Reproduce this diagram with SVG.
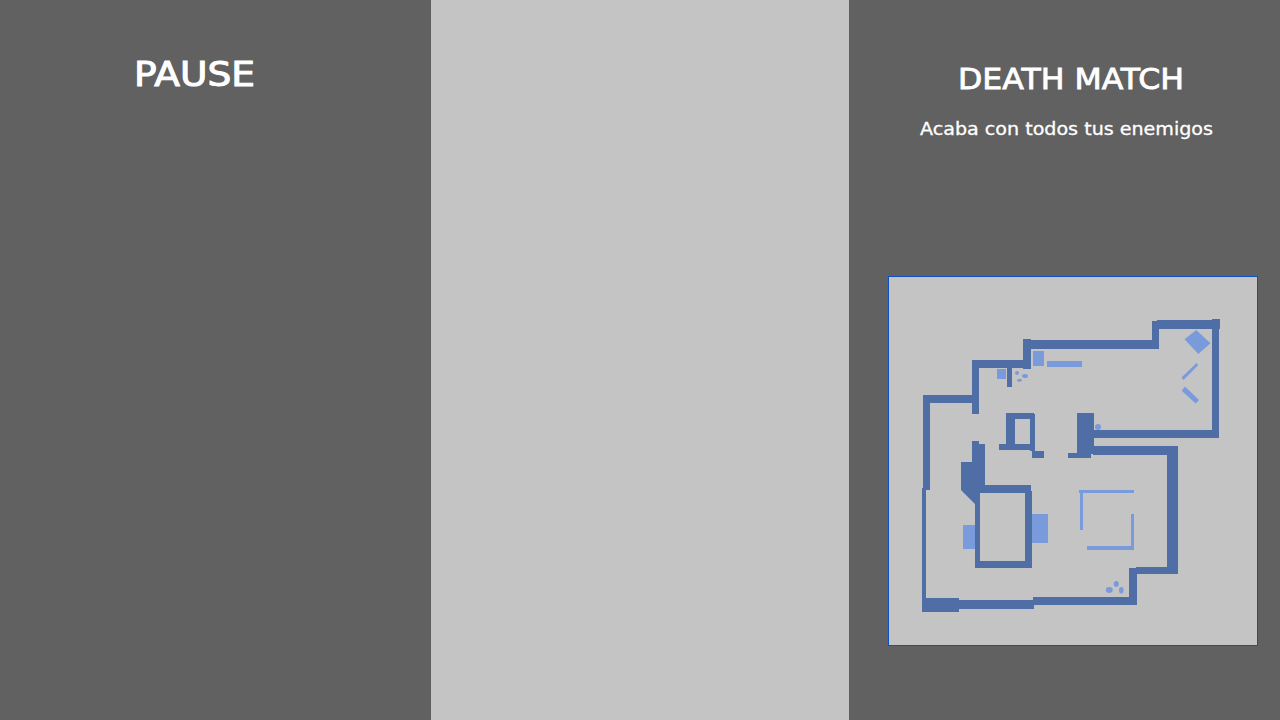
<svg xmlns="http://www.w3.org/2000/svg" width="1280" height="720" viewBox="0 0 1280 720">
<style>
.w{fill:#4e6ea5}
.l{fill:#7a9bdb}
text{fill:#fff;stroke:#fff;stroke-width:.3px;font-family:"DejaVu Sans",sans-serif}
</style>
<rect width="1280" height="720" fill="#616161"/>
<rect x="431" width="418" height="720" fill="#c4c4c4"/>
<text x="134" y="86" font-size="33" textLength="121" lengthAdjust="spacingAndGlyphs" style="stroke-width:1px">PAUSE</text>
<text x="958" y="88.500" font-size="28.500" textLength="226" lengthAdjust="spacingAndGlyphs" style="stroke-width:.8px">DEATH MATCH</text>
<text x="920" y="135" font-size="17.500" textLength="293" lengthAdjust="spacingAndGlyphs">Acaba con todos tus enemigos</text>
<g id="map">
<rect x="888.500" y="276.500" width="369" height="369" fill="#c4c4c4" stroke="#0d4fc4"/>
<g class="w">
<rect x="1031" y="340" width="128" height="9"/>
<rect x="1023" y="339" width="8" height="30"/>
<rect x="972" y="360" width="59" height="8"/>
<rect x="972" y="360" width="7" height="54"/>
<rect x="923" y="395" width="56" height="8"/>
<rect x="923" y="395" width="7" height="95"/>
<rect x="1007" y="368" width="5" height="19"/>
<rect x="1006" y="413" width="28" height="6"/>
<rect x="1006" y="413" width="9" height="31"/>
<rect x="1030" y="414" width="5" height="37"/>
<rect x="999" y="444" width="35" height="6"/>
<rect x="1032" y="451" width="12" height="7"/>
<rect x="1068" y="453" width="23" height="5"/>
<rect x="1077" y="413" width="17" height="41"/>
<rect x="1094" y="430" width="125" height="8"/>
<rect x="1212" y="319" width="7" height="119"/>
<rect x="1212" y="319" width="8" height="10"/>
<rect x="1157" y="320" width="63" height="9"/>
<rect x="1152" y="321" width="7" height="28"/>
<rect x="1093" y="446" width="85" height="9"/>
<rect x="1167" y="446" width="11" height="128"/>
<rect x="1136" y="567" width="42" height="7"/>
<rect x="1129" y="568" width="8" height="37"/>
<rect x="1033" y="597" width="104" height="8"/>
<rect x="959" y="600" width="75" height="9"/>
<rect x="922" y="598" width="37" height="14"/>
<rect x="922" y="488" width="4" height="124"/>
<polygon points="972,441 979,441 979,444 985,444 985,493 980,493 980,504 975,504 961,490 961,462 972,462"/>
<rect x="979" y="485" width="52" height="8"/>
<rect x="975" y="490" width="5" height="78"/>
<rect x="1025" y="491" width="7" height="77"/>
<rect x="975" y="561" width="57" height="7"/>
</g>
<g class="l">
<rect x="997" y="369" width="9" height="10"/>
<rect x="1033" y="351" width="11" height="15"/>
<rect x="1047" y="361" width="35" height="6"/>
<ellipse cx="1017" cy="373" rx="2" ry="2"/>
<ellipse cx="1025" cy="376" rx="3" ry="2"/>
<ellipse cx="1019.500" cy="380.300" rx="2.500" ry="1.500"/>
<circle cx="1098" cy="427" r="3"/>
<polygon points="1196.300,330 1210.500,343.300 1198.300,354 1184.500,339.300"/>
<polygon points="1196.500,363 1198.200,365.200 1183.500,380 1181.500,377.500"/>
<polygon points="1185,386.500 1199,400 1195.700,403.500 1181.700,390.700"/>
<rect x="963" y="525" width="12" height="24"/>
<rect x="1032" y="514" width="16" height="29"/>
<rect x="1079" y="490" width="55" height="3"/>
<rect x="1080" y="490" width="3" height="40"/>
<rect x="1131" y="514" width="3" height="36"/>
<rect x="1087" y="546" width="47" height="4"/>
<ellipse cx="1109.300" cy="590" rx="3.500" ry="3"/>
<ellipse cx="1116.300" cy="584" rx="2.500" ry="3"/>
<ellipse cx="1121.300" cy="590.300" rx="2.300" ry="3.300"/>
</g>
</g>
</svg>
